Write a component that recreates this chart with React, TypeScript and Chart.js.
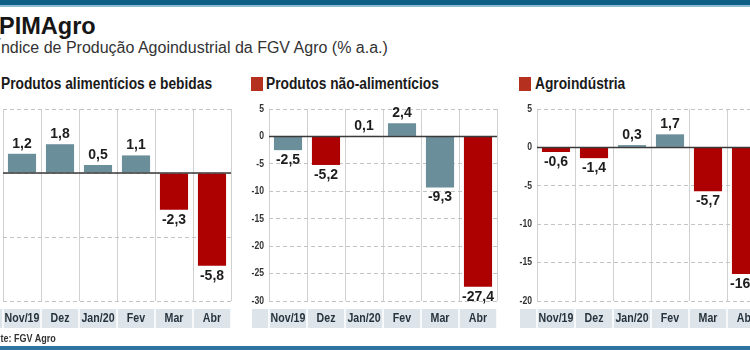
import React, { useEffect, useRef } from "react";
import { Chart, registerables } from "chart.js";

Chart.register(...registerables);

// ---- data ----
const categories = ["Nov/19", "Dez", "Jan/20", "Fev", "Mar", "Abr"];
const alimenticiosValues = [1.2, 1.8, 0.5, 1.1, -2.3, -5.8];
const naoAlimenticiosValues = [-2.5, -5.2, 0.1, 2.4, -9.3, -27.4];
const agroindustriaValues = [-0.6, -1.4, 0.3, 1.7, -5.7, -16.5];
// bar tone per category: "g" = grey-blue, "r" = red
const alimenticiosTones = ["g", "g", "g", "g", "r", "r"];
const naoAlimenticiosTones = ["g", "r", "g", "g", "g", "r"];
const agroindustriaTones = ["r", "r", "g", "g", "r", "r"];
// y axis: [min, max, step]
const alimenticiosTicks = [-8, 4, 4];
const naoAlimenticiosTicks = [-30, 5, 5];
const agroindustriaTicks = [-20, 5, 5];

const SANS = '"Liberation Sans", Arial, sans-serif';
const GREY = "#6b8e9b";
const RED = "#ad0000";

function drawNarrow(ctx: any, txt: string, x: number, y: number, k: number) {
  ctx.save();
  ctx.translate(x, y);
  ctx.scale(k, 1);
  ctx.fillText(txt, 0, 0);
  ctx.restore();
}

const bandPlugin = {
  id: "band",
  beforeDraw(chart: any) {
    const { ctx, chartArea } = chart;
    const { left, right, bottom } = chartArea;
    const n = chart.data.labels.length;
    ctx.save();
    ctx.fillStyle = "#dde5eb";
    ctx.fillRect(left - 17, bottom + 8, right - left + 17, 19);
    ctx.strokeStyle = "#ffffff";
    ctx.lineWidth = 1.5;
    for (let i = 0; i <= n; i++) {
      const px = left + ((right - left) * i) / n;
      ctx.beginPath();
      ctx.moveTo(px, bottom + 8);
      ctx.lineTo(px, bottom + 27);
      ctx.stroke();
    }
    ctx.restore();
  },
  afterDraw(chart: any) {
    const { ctx, chartArea } = chart;
    const xs = chart.scales.x;
    const ys = chart.scales.y;
    ctx.save();
    // x labels
    ctx.font = `bold 12.5px ${SANS}`;
    ctx.fillStyle = "#27333c";
    ctx.textAlign = "center";
    ctx.textBaseline = "middle";
    chart.data.labels.forEach((lab: string, i: number) => {
      drawNarrow(ctx, lab, xs.getPixelForValue(i), chartArea.bottom + 18, 0.85);
    });
    // y labels
    ctx.font = `bold 10.5px ${SANS}`;
    ctx.fillStyle = "#333333";
    ctx.textAlign = "right";
    ys.ticks.forEach((t: any) => {
      drawNarrow(ctx, String(t.value), chartArea.left - 5, ys.getPixelForValue(t.value), 0.82);
    });
    ctx.restore();
  },
};

const labelPlugin = {
  id: "valueLabels",
  afterDatasetsDraw(chart: any) {
    const { ctx, chartArea } = chart;
    const y0 = chart.scales.y.getPixelForValue(0);
    ctx.save();
    ctx.strokeStyle = "#3a3a3a";
    ctx.lineWidth = 1.5;
    ctx.beginPath();
    ctx.moveTo(chartArea.left, y0);
    ctx.lineTo(chartArea.right, y0);
    ctx.stroke();
    const meta = chart.getDatasetMeta(0);
    const data = chart.data.datasets[0].data;
    ctx.font = `bold 14px ${SANS}`;
    ctx.fillStyle = "#1d1d1d";
    ctx.textAlign = "center";
    meta.data.forEach((el: any, i: number) => {
      const v = data[i] as number;
      const txt = v.toFixed(1).replace(".", ",");
      if (v >= 0) {
        ctx.textBaseline = "bottom";
        ctx.fillText(txt, el.x, el.y - 3);
      } else {
        ctx.textBaseline = "top";
        ctx.fillText(txt, el.x, el.y + 3);
      }
    });
    ctx.restore();
  },
};

function Panel({ values, tones, ticks, left }: { values: number[]; tones: string[]; ticks: number[]; left: number }) {
  const ref = useRef<HTMLCanvasElement>(null);
  useEffect(() => {
    if (!ref.current) return;
    const chart = new Chart(ref.current, {
      type: "bar",
      data: {
        labels: categories,
        datasets: [
          {
            data: values,
            backgroundColor: tones.map((t) => (t === "r" ? RED : GREY)),
            categoryPercentage: 1,
            barPercentage: 0.74,
          },
        ],
      },
      options: {
        responsive: false,
        maintainAspectRatio: false,
        animation: false,
        layout: { padding: { top: 9, right: 4, left: 0, bottom: 0 } },
        plugins: { legend: { display: false }, tooltip: { enabled: false } },
        scales: {
          x: {
            grid: { color: "#d0d0d0", lineWidth: 1, drawTicks: false, offset: true },
            border: { display: false },
            ticks: { display: false },
            afterFit: (s: any) => {
              s.height = 34;
            },
          },
          y: {
            min: ticks[0],
            max: ticks[1],
            ticks: { stepSize: ticks[2], display: false },
            grid: { color: "#c4c4c4", drawTicks: false },
            border: { display: false, dash: [4, 3] },
            afterFit: (s: any) => {
              s.width = 24;
            },
          },
        },
      } as any,
      plugins: [bandPlugin, labelPlugin],
    });
    return () => chart.destroy();
  }, []);
  return (
    <canvas
      ref={ref}
      width={256}
      height={235}
      style={{ position: "absolute", left, top: 100, width: 256, height: 235 }}
    />
  );
}

const narrowText = (left: number, top: number, size: number, k: number, bold: boolean, color: string): React.CSSProperties => ({
  position: "absolute",
  left,
  top,
  fontFamily: SANS,
  fontWeight: bold ? "bold" : "normal",
  fontSize: size,
  lineHeight: `${size}px`,
  color,
  whiteSpace: "nowrap",
  transform: `scaleX(${k})`,
  transformOrigin: "0 0",
});

const square = (left: number): React.CSSProperties => ({
  position: "absolute",
  left,
  top: 76.5,
  width: 11.5,
  height: 14,
  background: "#b5301f",
});

export default function App() {
  return (
    <div
      style={{
        position: "fixed",
        left: 0,
        top: 0,
        width: 750,
        height: 350,
        overflow: "hidden",
        background: "#ffffff",
      }}
    >
      <div style={{ position: "absolute", left: 0, top: 0, width: 750, height: 5, background: "#0d5f86" }} />
      <div style={{ position: "absolute", left: 0, top: 5, width: 750, height: 1.5, background: "#8fbbd3" }} />
      <div style={narrowText(-1, 14, 24, 0.98, true, "#161616")}>PIMAgro</div>
      <div style={narrowText(-3.5, 39.8, 16, 1, false, "#333333")}>
        Índice de Produção Agoindustrial da FGV Agro (% a.a.)
      </div>

      <div style={square(-16)} />
      <div style={narrowText(1, 75.8, 16, 0.86, true, "#1a1a1a")}>Produtos alimentícios e bebidas</div>
      <div style={square(251)} />
      <div style={narrowText(266, 75.8, 16, 0.86, true, "#1a1a1a")}>Produtos não-alimentícios</div>
      <div style={square(519)} />
      <div style={narrowText(535, 75.8, 16, 0.86, true, "#1a1a1a")}>Agroindústria</div>

      <Panel values={alimenticiosValues} tones={alimenticiosTones} ticks={alimenticiosTicks} left={-21} />
      <Panel values={naoAlimenticiosValues} tones={naoAlimenticiosTones} ticks={naoAlimenticiosTicks} left={245} />
      <Panel values={agroindustriaValues} tones={agroindustriaTones} ticks={agroindustriaTicks} left={513} />

      <div style={narrowText(-16.5, 333, 11, 0.82, true, "#333333")}>Fonte: FGV Agro</div>
      <div style={{ position: "absolute", left: 0, top: 346, width: 750, height: 4, background: "#2f73a0" }} />
    </div>
  );
}
